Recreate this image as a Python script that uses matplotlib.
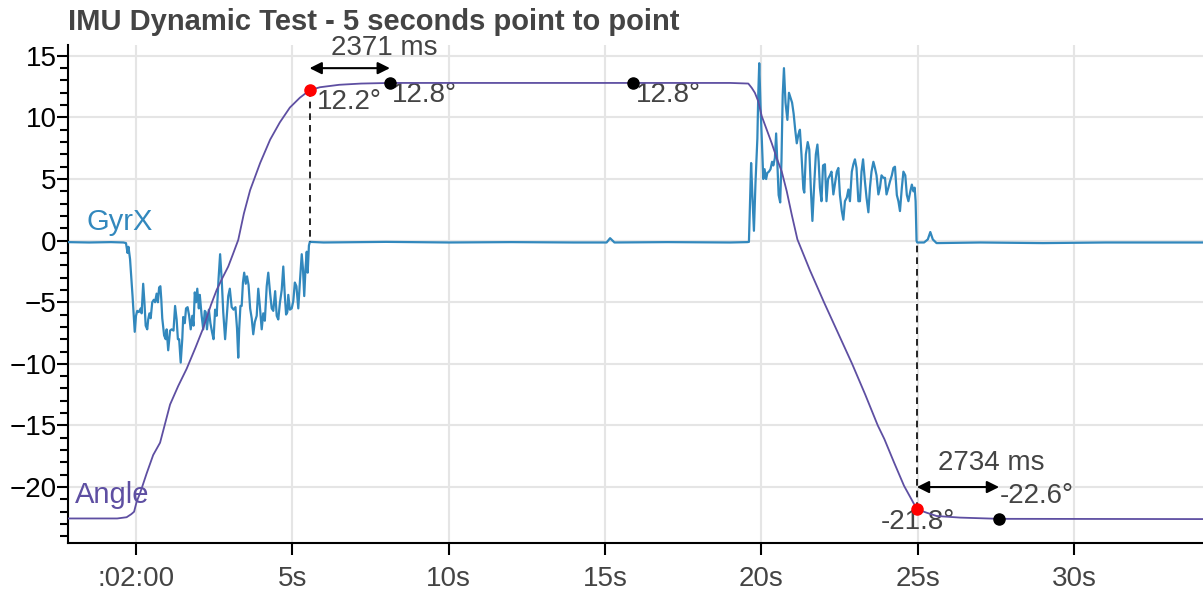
import matplotlib
matplotlib.use("Agg")
import matplotlib.pyplot as plt

plt.rcParams["font.family"] = ["Liberation Sans", "DejaVu Sans"]

GYR_COLOR = "#3288bd"
ANGLE_COLOR = "#5e4fa2"
TEXT_COLOR = "#444444"

# GyrX samples (seconds, value)
gyr_t = [-2.2, -1.5, -0.8, -0.4, -0.32, -0.27, -0.24, -0.19, -0.11, -0.04,
         0.0, 0.04, 0.09, 0.15, 0.18, 0.23, 0.27, 0.31, 0.36, 0.39,
         0.43, 0.47, 0.52, 0.57, 0.61, 0.66, 0.7, 0.74, 0.78, 0.81,
         0.84, 0.9, 0.95, 0.98, 1.03, 1.09, 1.14, 1.2, 1.25, 1.3,
         1.34, 1.38, 1.43, 1.48, 1.51, 1.56, 1.6, 1.65, 1.7, 1.75,
         1.8, 1.84, 1.88, 1.92, 1.96, 2.01, 2.04, 2.1, 2.15, 2.2,
         2.23, 2.27, 2.33, 2.38, 2.43, 2.48, 2.53, 2.58, 2.64, 2.69,
         2.74, 2.79, 2.85, 2.9, 2.95, 3.0, 3.06, 3.12, 3.18, 3.23,
         3.27, 3.3, 3.34, 3.38, 3.42, 3.46, 3.51, 3.55, 3.6, 3.65,
         3.7, 3.75, 3.8, 3.86, 3.91, 3.96, 4.02, 4.07, 4.12, 4.18,
         4.23, 4.29, 4.34, 4.39, 4.45, 4.5, 4.55, 4.6, 4.66, 4.71,
         4.76, 4.8, 4.84, 4.87, 4.92, 4.98, 5.03, 5.08, 5.13, 5.19,
         5.24, 5.3, 5.34, 5.38, 5.42, 5.46, 5.49, 5.53, 5.56,
         6.0, 8.0, 10.0, 12.0, 14.0, 15.05, 15.16, 15.3, 17.0, 19.0, 19.55,
         19.6, 19.64, 19.67, 19.71, 19.76, 19.81, 19.87, 19.9, 19.93, 19.97,
         20.03, 20.06, 20.1, 20.15, 20.19, 20.24, 20.29, 20.34, 20.38, 20.43,
         20.47, 20.51, 20.55, 20.6, 20.64, 20.68, 20.72, 20.77, 20.83, 20.88,
         20.93, 20.98, 21.03, 21.08, 21.13, 21.18, 21.23, 21.28, 21.34, 21.37,
         21.42, 21.48, 21.53, 21.58, 21.63, 21.68, 21.74, 21.79, 21.83, 21.87,
         21.92, 21.97, 22.03, 22.08, 22.13, 22.19, 22.24, 22.3, 22.35, 22.41,
         22.46, 22.51, 22.57, 22.62, 22.67, 22.73, 22.78, 22.83, 22.89, 22.94,
         22.99, 23.04, 23.1, 23.15, 23.2, 23.25, 23.31, 23.36, 23.42, 23.47,
         23.52, 23.58, 23.63, 23.68, 23.74, 23.79, 23.84, 23.9, 23.95, 24.0,
         24.06, 24.11, 24.17, 24.22, 24.27, 24.33, 24.38, 24.43, 24.49, 24.54,
         24.6, 24.65, 24.7, 24.76, 24.81, 24.86, 24.9, 24.93, 24.96, 24.98,
         25.2, 25.32, 25.4, 25.48, 25.6, 27.0, 29.0, 31.0, 34.2]
gyr_v = [-0.12, -0.15, -0.12, -0.15, -0.2, -1.0, -0.5, -1.5, -4.5, -7.4,
         -6.1, -5.7, -5.8, -5.5, -5.9, -3.5, -5.0, -6.9, -7.2, -6.4,
         -5.9, -6.3, -5.0, -4.8, -5.0, -4.3, -5.0, -3.8, -3.7, -4.8,
         -6.3, -7.7, -8.0, -7.2, -8.9, -7.3, -7.2, -7.3, -5.3, -6.4,
         -8.0, -8.0, -9.9, -8.0, -6.2, -6.7, -5.5, -5.4, -6.1, -7.2,
         -6.1, -6.9, -4.2, -5.0, -3.9, -5.5, -4.4, -6.1, -7.2, -5.7,
         -5.8, -7.2, -5.6, -6.7, -7.4, -8.0, -5.6, -6.1, -3.1, -1.1,
         -3.1, -5.8, -8.0, -6.2, -4.5, -3.9, -5.4, -5.6, -5.4, -7.1,
         -9.5, -7.2, -5.3, -5.3, -3.4, -2.6, -3.5, -2.9, -3.6, -5.5,
         -6.3, -7.6, -6.6, -6.1, -3.9, -5.3, -7.2, -5.9, -6.5, -3.7,
         -2.6, -4.3, -5.5, -5.7, -4.1, -6.1, -6.4, -5.1, -4.0, -2.1,
         -4.5, -6.0, -5.8, -4.4, -5.6, -5.5, -4.9, -3.4, -3.7, -5.5,
         -3.4, -1.1, -2.3, -4.5, -2.3, -0.9, -2.6, -0.4, -0.1,
         -0.15, -0.1, -0.15, -0.12, -0.15, -0.15, 0.2, -0.15, -0.12, -0.15, -0.12,
         -0.1, 3.7, 6.3, 3.7, 0.8, 4.7, 8.3, 12.0, 14.4, 11.0,
         7.0, 5.0, 5.8, 5.0, 5.5, 5.6, 5.8, 6.4, 6.1, 6.7,
         8.7, 6.1, 3.7, 3.1, 6.4, 11.8, 14.0, 11.2, 9.8, 12.0,
         11.6, 11.2, 10.3, 9.0, 7.9, 8.6, 9.0, 7.0, 4.2, 3.9,
         7.0, 8.0, 7.4, 4.2, 1.6, 4.2, 7.0, 7.8, 6.4, 4.3,
         3.2, 6.1, 6.2, 3.2, 5.0, 5.3, 5.6, 3.75, 4.6, 5.6,
         5.9, 3.7, 2.4, 1.7, 3.2, 3.5, 4.15, 3.2, 5.6, 6.2,
         6.6, 5.9, 3.2, 3.2, 5.6, 6.6, 4.8, 3.5, 2.3, 4.3,
         5.6, 6.4, 5.9, 5.3, 3.75, 4.3, 5.3, 5.1, 5.1, 3.75,
         4.3, 4.8, 5.3, 5.9, 6.0, 3.7, 3.2, 2.4, 4.3, 5.6,
         5.3, 3.7, 3.2, 4.0, 4.55, 4.0, 4.3, 3.2, 0.0, -0.15,
         -0.15, 0.1, 0.7, 0.1, -0.2, -0.15, -0.2, -0.15, -0.15]

# Angle samples (seconds, degrees)
angle_t = [-2.2, -0.6, -0.3, -0.15, -0.06, 0.02, 0.13, 0.34, 0.55, 0.77,
           1.09, 1.35, 1.62, 1.9, 2.15, 2.4, 2.58, 2.77, 2.95, 3.1,
           3.27, 3.45, 3.65, 3.97, 4.29, 4.6, 4.92, 5.24, 5.55, 5.88,
           6.5, 7.2, 8.12, 12.0, 15.9, 19.0, 19.58, 19.69, 19.79, 19.9,
           20.01, 20.17, 20.33, 20.49, 20.65, 20.81, 20.97, 21.15, 21.55, 22.0,
           22.45, 22.9, 23.32, 23.72, 23.93, 24.24, 24.56, 24.82, 24.97, 25.28,
           25.6, 26.35, 27.6, 34.2]
angle_v = [-22.55, -22.55, -22.45, -22.2, -22.0, -21.2, -20.5, -18.9, -17.4, -16.4,
           -13.3, -11.8, -10.4, -8.7, -7.1, -5.2, -4.0, -3.0, -2.1, -1.1,
           0.06, 2.2, 4.1, 6.3, 8.2, 9.6, 10.8, 11.6, 12.2, 12.45,
           12.65, 12.75, 12.8, 12.8, 12.8, 12.8, 12.75, 12.4, 12.0, 11.3,
           10.1, 9.0, 7.9, 6.7, 5.6, 4.0, 2.1, 0.1, -2.4, -5.0,
           -7.5, -10.0, -12.5, -15.0, -16.1, -18.0, -19.9, -21.1, -21.8, -22.08,
           -22.35, -22.48, -22.58, -22.6]

# highlighted points
red_t = [5.55, 24.97]
red_v = [12.2, -21.8]
black_t = [8.12, 15.9, 27.6]
black_v = [12.8, 12.8, -22.58]

tick_pos = [0, 5, 10, 15, 20, 25, 30]
tick_labels = [":02:00", "5s", "10s", "15s", "20s", "25s", "30s"]

fig = plt.figure(figsize=(12.03, 5.92), dpi=100)
ax = fig.add_axes([0.0565, 0.0828, 0.9435, 0.8412])

ax.plot(gyr_t, gyr_v, color=GYR_COLOR, lw=1.6, zorder=3)
ax.plot(angle_t, angle_v, color=ANGLE_COLOR, lw=1.3, zorder=4)

# dashed markers from the red points to the gyro line
for t, v in zip(red_t, red_v):
    ax.plot([t, t], [v, -0.1], color="black", lw=1.2, ls=(0, (4, 3)), zorder=5)

ax.plot(red_t, red_v, "o", color="#ff0000", ms=8, zorder=6)
ax.plot(black_t, black_v, "o", color="black", ms=8, zorder=6)

arrow = dict(arrowstyle="<|-|>", color="black", lw=1.5, mutation_scale=18,
             shrinkA=0, shrinkB=0)
ax.annotate("", xy=(black_t[0], 14.0), xytext=(red_t[0], 14.0), arrowprops=arrow, zorder=7)
ax.annotate("", xy=(black_t[2], -20.0), xytext=(red_t[1], -20.0), arrowprops=arrow, zorder=7)

fs = 20
ax.text(7.93, 15.6, "2371 ms", ha="center", va="center", fontsize=fs, color=TEXT_COLOR)
ax.text(27.35, -18.05, "2734 ms", ha="center", va="center", fontsize=fs, color=TEXT_COLOR)
ax.text(5.8, 11.25, "12.2°", ha="left", va="center", fontsize=fs, color=TEXT_COLOR)
ax.text(8.19, 11.8, "12.8°", ha="left", va="center", fontsize=fs, color=TEXT_COLOR)
ax.text(15.99, 11.8, "12.8°", ha="left", va="center", fontsize=fs, color=TEXT_COLOR)
ax.text(25.0, -22.85, "-21.8°", ha="center", va="center", fontsize=fs, color=TEXT_COLOR)
ax.text(27.63, -20.75, "-22.6°", ha="left", va="center", fontsize=fs, color=TEXT_COLOR)

ax.text(-1.57, 1.5, "GyrX", ha="left", va="center", fontsize=21, color=GYR_COLOR)
ax.text(-1.95, -20.65, "Angle", ha="left", va="center", fontsize=21, color=ANGLE_COLOR)

ax.set_xlim(-2.175, 34.12)
ax.set_ylim(-24.54, 15.88)
ax.set_xticks(tick_pos)
ax.set_xticklabels(tick_labels)
ax.set_yticks(range(-20, 16, 5))
ax.set_yticks(range(-24, 16), minor=True)

ax.grid(True, which="major", color="#e5e5e5", lw=1.5, zorder=0)
ax.set_axisbelow(True)
for side in ("top", "right"):
    ax.spines[side].set_visible(False)
for side in ("left", "bottom"):
    ax.spines[side].set_linewidth(1.5)
    ax.spines[side].set_color("black")

ax.tick_params(axis="y", which="major", length=8, width=1.5, labelsize=20, pad=0, colors="black")
ax.tick_params(axis="y", which="minor", length=5.5, width=1.5)
ax.tick_params(axis="x", which="major", length=8.5, width=1.5, labelsize=20, pad=8,
               labelcolor=TEXT_COLOR)

fig.text(68 / 1203, 1 - 22 / 592, "IMU Dynamic Test - 5 seconds point to point",
         ha="left", va="center", fontsize=21, fontweight="bold", color=TEXT_COLOR)

fig.savefig("out.png", dpi=100)
